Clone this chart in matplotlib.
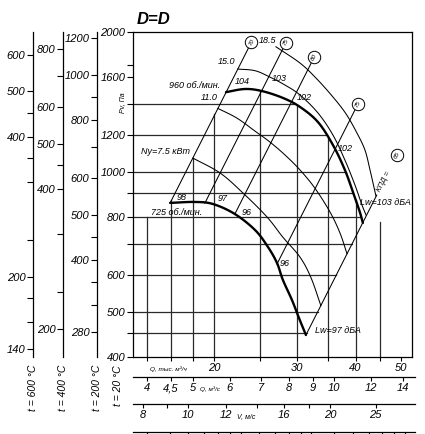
import numpy as np
import matplotlib
matplotlib.use("Agg")
import matplotlib.pyplot as plt
from matplotlib.ticker import FixedLocator, NullFormatter, FixedFormatter

plt.rcParams['font.family'] = ['Liberation Sans', 'DejaVu Sans']
plt.rcParams['font.style'] = 'italic'

# ---------------- data (Q in m3/s, P in Pa) ----------------
# fan P-Q curves
q960 = [5.89, 6.46, 7.02, 7.78, 8.46, 9.24, 9.94, 10.54, 11.02, 11.34, 11.51]
p960 = [1485, 1508, 1493, 1443, 1380, 1280, 1143, 1010, 892, 820, 777]
q725 = [4.48, 5.06, 5.53, 6.15, 6.79, 7.23, 7.56, 7.78, 8.13, 8.42, 8.71]
p725 = [858, 862, 853, 812, 750, 690, 637, 586, 531, 485, 446]

# constant shaft power curves (kW)
q_n75 = [5.01, 5.72, 6.40, 7.20, 7.78, 8.46, 8.93, 9.37]
p_n75 = [1071, 995, 901, 800, 724, 656, 592, 516]
q_n110 = [5.66, 6.21, 6.79, 7.30, 7.86, 8.46, 9.10, 9.80, 10.29, 10.65]
p_n110 = [1370, 1306, 1224, 1160, 1088, 1010, 923, 820, 739, 667]
q_n150 = [6.24, 6.79, 7.30, 7.86, 8.46, 9.24, 9.94, 10.54, 11.07, 11.46, 11.69]
p_n150 = [1665, 1651, 1600, 1538, 1464, 1339, 1201, 1061, 938, 849, 808]
q_n185 = [7.52, 8.46, 9.15, 9.94, 10.60, 11.18, 11.63, 11.92, 12.27]
p_n185 = [1859, 1715, 1592, 1450, 1333, 1213, 1114, 1010, 888]

# efficiency rays (start on 725 curve, end at label circle)
eff_labels = ['70', '75', '80', '75', '65']
eff_q_lo = [4.48, 5.31, 6.15, 7.56, 8.71]
eff_p_lo = [858, 857, 812, 634, 446]
eff_q_hi = [6.67, 7.90, 9.07, 11.24, 12.32]
eff_p_hi = [1902, 1897, 1766, 1401, 892]
eff_circle_q = [6.67, 7.90, 9.07, 11.24, 13.6]
eff_circle_p = [1902, 1897, 1766, 1401, 1088]

# grid
hgrid_p = [1400, 1200, 1000, 900, 800, 700, 600, 500, 450]
vgrid_qk = [14.4, 16.2, 18.0, 20, 25, 30, 35, 40, 45]          # thousand m3/h
vgrid_top = [800, 870, 1070, 1330, 1495, 1392, 1185, 872, 780]

# axis ticks
p_major = [2000, 1600, 1200, 1000, 800, 600, 500, 400]
p_minor = [1700, 1400, 900, 700, 450]
qk_labels = [20, 30, 40, 50]
qs_ticks = [4, 4.5, 5, 6, 7, 8, 9, 10, 12, 14]
qs_labels = ['4', '4,5', '5', '6', '7', '8', '9', '10', '12', '14']
v_major = [8, 10, 12, 16, 20, 25]
v_minor = [9, 14, 18]
duct_area = 0.49
pd_ticks = [40, 50, 60, 70, 80, 90, 100, 120, 140, 160, 180, 200, 250, 300, 350, 400, 450, 500]

temps = [600, 400, 200]
temp_x = [33, 63, 97]
temp_major = [[600, 500, 400, 200, 140], [800, 600, 500, 400, 200],
              [1200, 1000, 800, 600, 500, 400, 280]]
temp_minor = [[450, 360, 320, 240, 180, 160], [700, 450, 320, 240],
              [900, 700, 450, 360, 320]]

# sound power labels etc: (text, Q, P, ha)
curve_texts = [
    ('960 об./мин.', 5.72, 1538, 'right'),
    ('11.0', 5.64, 1443, 'right'),
    ('15.0', 6.15, 1724, 'right'),
    ('18.5', 6.92, 1922, 'left'),
    ('104', 6.15, 1562, 'left'),
    ('103', 7.38, 1585, 'left'),
    ('102', 8.33, 1443, 'left'),
    ('102', 10.19, 1126, 'left'),
    ('Ny=7.5 кВт', 4.94, 1109, 'right'),
    ('98', 4.63, 883, 'left'),
    ('97', 5.66, 875, 'left'),
    ('96', 6.37, 820, 'left'),
    ('725 об./мин.', 5.24, 820, 'right'),
    ('96', 7.67, 634, 'left'),
    ('Lw=103 дБА', 11.34, 858, 'left'),
    ('Lw=97 дБА', 9.10, 457, 'left'),
]

# ---------------- layout ----------------
W, H = 425, 434
fig = plt.figure(figsize=(W / 100, H / 100), dpi=100)
L, R, T, B = 133, 412, 32, 357


def fx(px):
    return px / W


def fy(py):
    return 1 - py / H


def smooth(qs, ps, n=12):
    """Catmull-Rom drawing path through the read points (log-log space)."""
    x = np.log10(qs)
    y = np.log10(ps)
    P = np.column_stack([x, y])
    P = np.vstack([2 * P[0] - P[1], P, 2 * P[-1] - P[-2]])
    out = []
    t = np.linspace(0, 1, n, endpoint=False)[:, None]
    for i in range(1, len(P) - 2):
        p0, p1, p2, p3 = P[i - 1], P[i], P[i + 1], P[i + 2]
        seg = 0.5 * ((2 * p1) + (-p0 + p2) * t + (2 * p0 - 5 * p1 + 4 * p2 - p3) * t ** 2
                     + (-p0 + 3 * p1 - 3 * p2 + p3) * t ** 3)
        out.append(seg)
    out.append(P[-2][None, :])
    out = np.vstack(out)
    return 10 ** out[:, 0], 10 ** out[:, 1]


ax = fig.add_axes([fx(L), fy(B), (R - L) / W, (B - T) / H])
ax.set_xscale('log')
ax.set_yscale('log')
xlim = (3.735, 14.64)
ax.set_xlim(*xlim)
ax.set_ylim(400, 2000)
for s in ax.spines.values():
    s.set_linewidth(0.9)

ax.yaxis.set_major_locator(FixedLocator(p_major))
ax.yaxis.set_major_formatter(FixedFormatter([str(v) for v in p_major]))
ax.yaxis.set_minor_locator(FixedLocator(p_minor))
ax.yaxis.set_minor_formatter(NullFormatter())
ax.tick_params(axis='y', which='both', direction='out', length=4, width=0.8,
               labelsize=8, pad=1.5)

qk_all = sorted(set(vgrid_qk + [50]))
ax.xaxis.set_major_locator(FixedLocator([v / 3.6 for v in qk_labels]))
ax.xaxis.set_major_formatter(FixedFormatter([str(v) for v in qk_labels]))
ax.xaxis.set_minor_locator(FixedLocator([v / 3.6 for v in qk_all]))
ax.xaxis.set_minor_formatter(NullFormatter())
ax.tick_params(axis='x', which='both', direction='out', length=3, width=0.8,
               labelsize=8, pad=1)

# grid lines clipped to envelope
imax = int(np.argmax(p960))
lq_d = np.log10(q960[imax:])
lp_d = np.log10(p960[imax:])


def env_q(p):
    if p >= p960[-1]:
        return 10 ** np.interp(np.log10(p), lp_d[::-1], lq_d[::-1])
    a = (np.log10(eff_q_hi[4]) - np.log10(eff_q_lo[4])) / (np.log10(eff_p_hi[4]) - np.log10(eff_p_lo[4]))
    return 10 ** (np.log10(eff_q_lo[4]) + a * (np.log10(p) - np.log10(eff_p_lo[4])))


gcol = '#2a2a2a'
for p in hgrid_p:
    ax.plot([xlim[0], env_q(p)], [p, p], color=gcol, lw=0.9, zorder=1)
for qk, top in zip(vgrid_qk, vgrid_top):
    ax.plot([qk / 3.6, qk / 3.6], [400, top], color=gcol, lw=0.9, zorder=1)

# efficiency rays
for ql, pl, qh, ph in zip(eff_q_lo, eff_p_lo, eff_q_hi, eff_p_hi):
    ax.plot([ql, qh], [pl, ph], color='black', lw=0.75, zorder=2)

# power curves
for qq, pp in [(q_n75, p_n75), (q_n110, p_n110), (q_n150, p_n150), (q_n185, p_n185)]:
    sx, sy = smooth(qq, pp)
    ax.plot(sx, sy, color='black', lw=0.75, zorder=3)

# fan curves
for qq, pp in [(q960, p960), (q725, p725)]:
    sx, sy = smooth(qq, pp)
    ax.plot(sx, sy, color='black', lw=1.7, zorder=4, solid_capstyle='round')

# circles
ax.scatter(eff_circle_q, eff_circle_p, s=80, facecolor='white', edgecolor='black',
           linewidths=0.7, zorder=6, clip_on=False)
for lab, q, p in zip(eff_labels, eff_circle_q, eff_circle_p):
    ax.text(q, p, lab, fontsize=4.5, rotation=63, ha='center', va='center', zorder=7)
ax.text(eff_q_hi[4] * 1.008, eff_p_hi[4] * 1.02, 'КПД =', fontsize=5.5, rotation=63,
        ha='left', va='center', rotation_mode='anchor', zorder=7)

for txt, q, p, ha in curve_texts:
    ax.text(q, p, txt, fontsize=6.5, ha=ha, va='center', zorder=7)

# ---------------- temperature scales ----------------
for t, x, maj, mnr in zip(temps, temp_x, temp_major, temp_minor):
    f = 293.0 / (273.0 + t)
    a = fig.add_axes([fx(x), fy(B), 0.0001, (B - T) / H])
    a.set_yscale('log')
    a.set_ylim(400 * f, 2000 * f)
    for s in ['right', 'top', 'bottom']:
        a.spines[s].set_visible(False)
    a.spines['left'].set_linewidth(0.9)
    a.set_xticks([])
    a.patch.set_visible(False)
    a.yaxis.set_major_locator(FixedLocator(maj))
    a.yaxis.set_major_formatter(FixedFormatter([str(v) for v in maj]))
    a.yaxis.set_minor_locator(FixedLocator(mnr))
    a.yaxis.set_minor_formatter(NullFormatter())
    a.tick_params(axis='y', which='both', direction='out', length=4, width=0.8,
                  labelsize=8, pad=1.5)
    fig.text(fx(x), fy(365), 't = %d °C' % t, rotation=90, ha='center', va='top',
             fontsize=7.5)
fig.text(fx(118), fy(365), 't = 20 °C', rotation=90, ha='center', va='top', fontsize=7.5)


# ---------------- bottom scales ----------------
def scale_axes(py):
    a = fig.add_axes([fx(L), fy(py), (R - L + 3) / W, 0.0001])
    a.set_xscale('log')
    a.set_xlim(xlim[0], xlim[1] * 10 ** (3 / 470.3))
    for s in ['left', 'right', 'top']:
        a.spines[s].set_visible(False)
    a.spines['bottom'].set_linewidth(0.9)
    a.set_yticks([])
    a.patch.set_visible(False)
    return a


aq = scale_axes(377)
aq.xaxis.set_major_locator(FixedLocator(qs_ticks))
aq.xaxis.set_major_formatter(FixedFormatter(qs_labels))
aq.xaxis.set_minor_locator(FixedLocator([]))
aq.tick_params(axis='x', which='major', direction='out', length=3, width=0.8,
               labelsize=8, pad=1.5)

av = scale_axes(404)
av.xaxis.set_major_locator(FixedLocator([v * duct_area for v in v_major]))
av.xaxis.set_major_formatter(FixedFormatter([str(v) for v in v_major]))
av.xaxis.set_minor_locator(FixedLocator([v * duct_area for v in v_minor]))
av.xaxis.set_minor_formatter(NullFormatter())
av.tick_params(axis='x', which='both', direction='out', length=3, width=0.8,
               labelsize=8, pad=1.5)

ap = scale_axes(432)
ap.xaxis.set_major_locator(FixedLocator([duct_area * np.sqrt(v / 0.6) for v in pd_ticks]))
ap.xaxis.set_major_formatter(NullFormatter())
ap.xaxis.set_minor_locator(FixedLocator([]))
ap.tick_params(axis='x', which='major', direction='out', length=5, width=0.8)

# small axis captions
fig.text(fx(150), fy(369), 'Q, тыс. м³/ч', fontsize=4.6, ha='left', va='center')
fig.text(fx(200), fy(389), 'Q, м³/с', fontsize=4.6, ha='left', va='center')
fig.text(fx(237), fy(417), 'V, м/с', fontsize=5, ha='left', va='center')
fig.text(fx(123), fy(103), 'Pv, Па', fontsize=5, rotation=90, ha='center', va='center')
fig.text(fx(137), fy(20), 'D=D', fontsize=12, fontweight='bold', ha='left', va='center')

fig.savefig('out.png', dpi=100)
